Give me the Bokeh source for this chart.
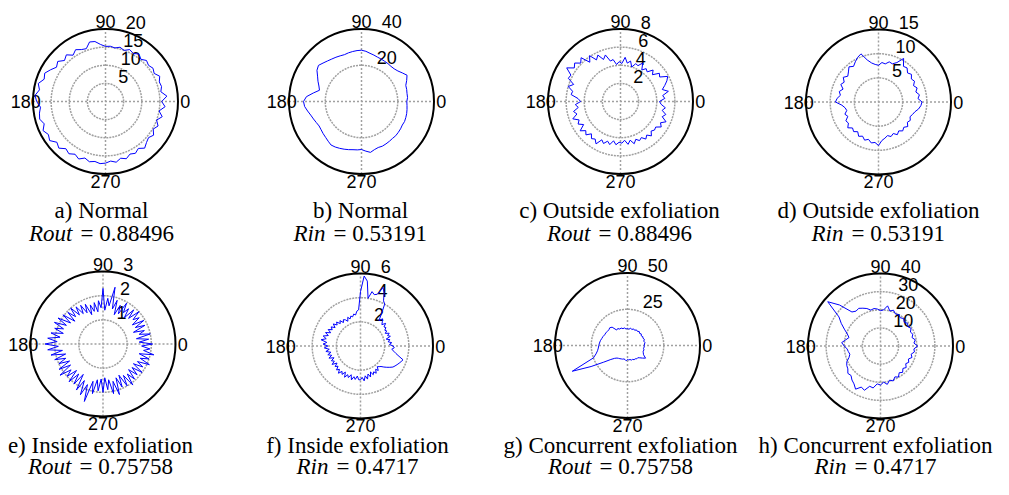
import numpy as np
from bokeh.plotting import figure
from bokeh.models import Range1d
from bokeh.layouts import column, row
from bokeh.embed import file_html
from bokeh.resources import INLINE
from bokeh.core.properties import value

# ---------------- data ----------------
# radius samples, evenly spaced in angle starting at 0 deg, counter-clockwise
a_normal_out = [15.5, 17, 15.5, 16, 15.8, 16.5, 15.5, 16, 15.5, 16, 15.2, 16, 15.3, 15.8, 15, 15.5, 15, 15.3,
                15.2, 15.8, 16.8, 17, 15.5, 15.8, 16.5, 15.6, 16.8, 16, 17.2, 16.5, 17.5, 18.5, 18, 19.2, 18.5, 19.5,
                19, 18, 18.5, 18.8, 18, 19, 18.2, 18.8, 17.5, 18.2, 17, 17.6, 16.8, 17.5, 16.6, 17.2, 16.8, 17.2,
                17, 16.5, 17, 16.2, 16.8, 16, 16.5, 15.8, 16.8, 16, 15.5, 16.2, 15.2, 16, 15, 16.2, 15, 16.5]
b_normal_in = [25, 25.5, 25.5, 25.8, 26, 27.5, 29, 27.5, 26.2, 25.5, 25.3, 25.5, 25.6, 25.8, 26, 26.5, 27, 27.8,
               28.3, 28.2, 28, 27.8, 27.5, 27.8, 28.2, 28.6, 29.2, 30, 31, 30, 28, 26.5, 25, 24, 27, 30.5,
               32, 31.5, 30.2, 29, 28.2, 27.5, 27, 27.2, 27.6, 28, 28.6, 29.3, 29, 28.5, 28, 27.5, 27, 26.8,
               26.5, 27.5, 28.5, 27.5, 27, 27.2, 27, 26.8, 26.6, 26.7, 26.5, 26.3, 26, 26.2, 26, 25.8, 25.5, 25.2]
c_outside_out = [4.3, 4.9, 4.7, 5.4, 4.8, 5.2, 5.6, 5.9, 5.1, 5.3, 4.6, 5.0, 4.4, 4.6, 4.2, 4.9, 4.4, 4.5,
                 4.0, 4.6, 4.3, 4.9, 4.2, 4.4, 4.1, 4.7, 4.6, 5.4, 5.0, 5.7, 5.3, 6.1, 5.5, 6.5, 6.1, 6.6,
                 6.3, 7.0, 6.2, 6.3, 5.5, 6.0, 5.4, 5.5, 4.7, 4.4, 5.0, 4.7, 5.3, 5.0, 5.6, 5.0, 5.3, 4.8,
                 5.5, 5.0, 5.3, 4.8, 5.2, 5.0, 5.4, 4.7, 5.0, 4.6, 4.9, 4.4, 4.8, 4.5, 4.6, 4.3, 4.8, 4.4,
                 4.9, 4.5, 4.8, 4.6, 5.0, 4.7, 5.1, 4.7, 4.9, 4.8, 5.3, 5.0, 5.5, 4.9, 5.2, 4.7, 5.0, 4.5]
d_outside_in = [9.0, 8.2, 8.6, 8.0, 8.5, 8.0, 8.6, 8.3, 8.9, 8.5, 9.2, 9.0, 10.4, 9.0, 8.4, 8.6, 8.0, 8.2,
                7.6, 7.8, 8.2, 9.0, 10.6, 10.2, 9.6, 9.0, 9.5, 8.8, 8.3, 8.9, 8.2, 8.6, 7.8, 8.4, 8.0, 8.6,
                8.9, 7.6, 7.0, 6.8, 7.4, 7.0, 7.8, 7.6, 8.3, 7.6, 8.0, 7.5, 8.2, 7.8, 8.4, 8.0, 8.6, 8.4,
                9.0, 8.0, 7.6, 7.2, 7.6, 7.2, 7.8, 7.3, 7.8, 7.4, 7.9, 7.3, 7.6, 7.2, 7.5, 7.8, 8.4, 8.8]
e_inside_out = [2.05, 1.5, 1.9, 1.4, 2.0, 1.55, 1.8, 1.35, 1.9, 1.5, 1.95, 1.45, 1.85, 1.6, 2.0, 1.5, 1.9, 1.4,
                1.8, 1.55, 1.95, 1.4, 1.75, 1.3, 1.9, 1.5, 2.4, 1.6, 1.9, 1.4, 2.3, 1.5, 1.8, 1.35, 1.75, 1.4,
                1.7, 1.3, 1.8, 1.45, 1.85, 1.5, 1.9, 1.55, 2.0, 1.6, 1.95, 1.5, 2.05, 1.6, 2.15, 1.7, 2.2, 1.75,
                2.1, 1.7, 2.2, 1.8, 2.3, 1.9, 2.4, 1.85, 2.3, 1.7, 2.2, 1.6, 2.1, 1.65, 2.0, 1.55, 2.1, 1.6,
                2.2, 1.7, 2.0, 1.55, 2.1, 1.6, 2.05, 1.5, 2.2, 1.7, 2.3, 1.8, 2.5, 1.6, 2.1, 1.5, 1.95, 1.45,
                2.0, 1.4, 1.9, 1.5, 2.1, 1.6, 2.2, 1.5, 1.95, 1.45, 2.0, 1.55, 2.1, 1.6, 1.95, 1.5, 1.9, 1.55,
                2.0, 1.5, 1.9, 1.6, 2.1, 1.65, 2.0, 1.55, 2.15, 1.7, 1.95, 1.6]
f_inside_in = [2.7, 2.4, 2.6, 2.3, 2.5, 2.2, 2.6, 2.4, 2.6, 2.3, 2.5, 2.4, 2.6, 2.5, 2.8, 2.5, 2.7, 2.9,
               2.6, 3.2, 4.0, 4.2, 4.8, 5.2, 4.5, 4.4, 4.6, 4.0, 5.4, 5.8, 4.5, 3.0, 2.9, 2.6, 2.7, 2.5,
               2.6, 2.4, 2.6, 2.3, 2.5, 2.6, 2.4, 2.7, 2.5, 2.8, 2.6, 2.9, 2.6, 2.9, 2.7, 3.0, 2.7, 3.1,
               2.8, 3.2, 2.9, 3.3, 2.8, 3.1, 2.7, 3.0, 2.6, 2.9, 2.5, 2.8, 2.5, 2.8, 2.4, 2.7, 2.5, 2.8,
               2.4, 2.7, 2.5, 2.8, 2.6, 2.9, 2.6, 2.8, 2.5, 2.9, 2.6, 2.8, 2.5, 2.9, 2.6, 2.8, 2.5, 2.8,
               2.8, 2.6, 2.9, 2.5, 2.8, 2.4, 2.7, 2.3, 2.6, 2.4, 2.6, 2.3, 2.5, 2.2, 2.3, 2.4, 2.6, 2.8,
               3.0, 3.2, 3.3, 3.4, 3.5, 3.6, 3.7, 3.3, 3.0, 2.8, 2.6, 2.8]
g_concurrent_out = [11.5, 11.8, 12.2, 11.6, 12.4, 11.8, 12.2, 11.6, 12.4, 11.8, 12.6, 11.9, 12.4, 11.6, 12.2, 11.4,
                    12.2, 11.2, 11.8, 11.4, 12.3, 12.0, 12.8, 12.5, 13.5, 13.0, 16.5, 17.3, 16.8, 17.0, 17.3, 17.4,
                    18.0, 18.4, 19.0, 19.4, 19.8, 20.2, 21.0, 22.5, 25.0, 42.0, 29.0, 20.0, 15.0, 12.5, 11.3, 10.8,
                    10.5, 10.2, 10.0, 9.6, 9.8, 10.6, 9.6, 10.0, 9.8, 10.4, 10.2, 10.8, 10.6, 11.2, 11.0, 12.0,
                    13.5, 15.2, 12.8, 12.0, 11.5, 11.8, 11.2, 11.6]
h_concurrent_in = [20.5, 18.5, 19.5, 18.0, 19.0, 18.2, 19.5, 18.5, 19.5, 18.5, 19.8, 19.0, 20.0, 19.5, 21.0, 20.0,
                   22.5, 20.0, 19.5, 20.5, 21.0, 20.5, 22.0, 23.0, 24.0, 23.5, 24.5, 32.0, 38.0, 28.0, 25.0, 22.0,
                   19.5, 18.0, 19.5, 21.5, 20.0, 18.5, 18.0, 17.5, 18.5, 20.5, 21.5, 22.0, 23.5, 23.0, 24.5, 25.5,
                   27.5, 25.0, 26.0, 23.0, 23.5, 21.0, 21.5, 20.0, 21.5, 19.5, 20.5, 18.8, 19.8, 18.0, 19.0, 17.5,
                   18.5, 17.0, 18.0, 17.0, 18.5, 17.5, 19.0, 18.5]

series = [a_normal_out, b_normal_in, c_outside_out, d_outside_in,
          e_inside_out, f_inside_in, g_concurrent_out, h_concurrent_in]
rmax_list = [20, 40, 8, 15, 3, 6, 50, 40]
ring_step = [5, 20, 2, 5, 1, 2, 25, 10]
radial_ticks = [[5, 10, 15, 20], [20, 40], [2, 4, 6, 8], [5, 10, 15],
                [1, 2, 3], [2, 4, 6], [25, 50], [10, 20, 30, 40]]
angle_ticks = [0, 90, 180, 270]
angle_labels = ["0", "90", "180", "270"]
captions = ["a) Normal", "b) Normal", "c) Outside exfoliation", "d) Outside exfoliation",
            "e) Inside exfoliation", "f) Inside exfoliation", "g) Concurrent exfoliation",
            "h) Concurrent exfoliation"]
cap_var = ["Rout", "Rin", "Rout", "Rin", "Rout", "Rin", "Rout", "Rin"]
cap_val = ["0.88496", "0.53191", "0.88496", "0.53191", "0.75758", "0.4717", "0.75758", "0.4717"]

# ---------------- layout (screen pixels) ----------------
R = 72.5
col_w = [248, 248, 248, 249]
row_h = [245, 234]
centers = [(105, 101), (361, 101), (620, 101), (878, 101.5),
           (102.5, 343.5), (360, 345.5), (627, 345), (880, 345.5)]
cap_cx = [101, 360, 619, 878, 100, 357, 620, 875]
cap_mid = [(209.5, 233), (445, 466)]
eq_shift = [-21, -27, -21, -27, -21, -21, -21, -21]

GRID = "#a0a0a0"
SANS = value("Liberation Sans")
SERIF = value("Liberation Serif")


def make_panel(i):
    r_idx, c_idx = divmod(i, 4)
    x0 = sum(col_w[:c_idx])
    y0 = sum(row_h[:r_idx])
    w, h = col_w[c_idx], row_h[r_idx]
    cx, cy = centers[i]
    cxl, cyl = cx - x0, cy - y0
    rmax = rmax_list[i]
    s = R / rmax
    p = figure(width=w, height=h,
               x_range=Range1d(-cxl / s, (w - cxl) / s),
               y_range=Range1d(-(h - cyl) / s, cyl / s),
               output_backend="svg", toolbar_location=None,
               x_axis_location=None, y_axis_location=None, min_border=0)
    p.grid.visible = False
    p.outline_line_color = None

    rings = [t for t in radial_ticks[i] if t < rmax]
    p.circle(x=[0] * len(rings), y=[0] * len(rings), radius=rings, fill_color=None,
             line_color=GRID, line_width=1.5, line_dash="2 1")
    p.segment(x0=[-rmax, 0], y0=[0, -rmax], x1=[rmax, 0], y1=[0, rmax],
              line_color=GRID, line_width=1.5, line_dash="2 2")
    p.circle(x=[0], y=[0], radius=[rmax], fill_color=None, line_color="black", line_width=2)

    ang = np.deg2rad(angle_ticks)
    p.text(x=1.1 * rmax * np.cos(ang), y=1.1 * rmax * np.sin(ang), text=angle_labels,
           text_align="center", text_baseline="middle", text_font=SANS,
           text_font_size="18px", text_color="black")

    rr = np.array(radial_ticks[i], dtype=float) + ring_step[i] / 20.0
    a82 = np.deg2rad(82)
    p.text(x=rr * np.cos(a82), y=rr * np.sin(a82), text=[str(t) for t in radial_ticks[i]],
           x_offset=10, text_align="left", text_baseline="bottom", text_font=SANS,
           text_font_size="18px", text_color="black")

    vals = np.array(series[i], dtype=float)
    th = np.linspace(0, 2 * np.pi, len(vals), endpoint=False)
    xs = np.append(vals * np.cos(th), vals[0])
    ys = np.append(vals * np.sin(th), 0.0)
    p.line(xs, ys, line_color="#0000ff", line_width=1)

    xc = (cap_cx[i] - cx) / s
    ym1 = (cyl - (cap_mid[r_idx][0] - y0)) / s
    ym2 = (cyl - (cap_mid[r_idx][1] - y0)) / s
    p.text(x=[xc], y=[ym1], text=[captions[i]], text_align="center", text_baseline="middle",
           text_font=SERIF, text_font_size="23px", text_color="black")
    p.text(x=[xc], y=[ym2], text=[cap_var[i]], x_offset=eq_shift[i] - 8, text_align="right",
           text_baseline="middle", text_font=SERIF, text_font_style="italic",
           text_font_size="23px", text_color="black")
    p.text(x=[xc], y=[ym2], text=["= " + cap_val[i]], x_offset=eq_shift[i], text_align="left",
           text_baseline="middle", text_font=SERIF, text_font_size="23px", text_color="black")
    return p


panels = [make_panel(i) for i in range(8)]
layout = column(row(*panels[:4]), row(*panels[4:]))
open("out.html", "w").write(file_html(layout, INLINE))
